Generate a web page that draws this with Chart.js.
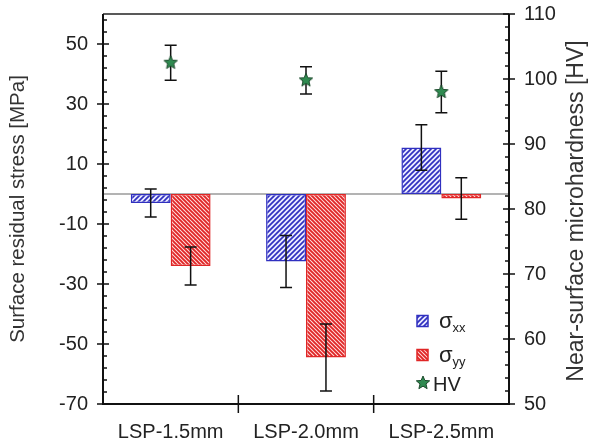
<!DOCTYPE html>
<html>
<head>
<meta charset="utf-8">
<script src="https://cdn.jsdelivr.net/npm/chart.js@4.4.1/dist/chart.umd.min.js"></script>
<style>
  html, body { margin: 0; padding: 0; background: #fff; }
  #wrap { width: 592px; height: 447px; }
</style>
</head>
<body>
<div id="wrap"><canvas id="chart" width="592" height="447"></canvas></div>
<script>
// categories and measured values
const categories = ['LSP-1.5mm', 'LSP-2.0mm', 'LSP-2.5mm'];
const sigmaXX = [-3, -22.5, 15.5];
const sigmaXXErr = [4.7, 8.7, 7.6];
const sigmaYY = [-24, -54.5, -1.5];
const sigmaYYErr = [6.3, 11.2, 6.9];
const hardness = [102.5, 99.8, 98];
const hardnessErr = [2.7, 2.1, 3.2];

// axis ticks
const stressTicks = [-70, -50, -30, -10, 10, 30, 50];
const stressMinorStep = 4;
const hvTicks = [50, 60, 70, 80, 90, 100, 110];
const hvMinorStep = 2;

const FONT = 'Liberation Sans, Arial, Helvetica, sans-serif';
const BLUE = '#3030c0';
const RED = '#e02626';
const GREEN = '#2f8a50';

function hatch(line, bg, forward, size, width) {
    const c = document.createElement('canvas');
    c.width = c.height = size;
    const g = c.getContext('2d');
    g.fillStyle = bg;
    g.fillRect(0, 0, size, size);
    g.strokeStyle = line;
    g.lineWidth = width;
    g.beginPath();
    if (forward) {
        g.moveTo(0, size); g.lineTo(size, 0);
        g.moveTo(-size, size); g.lineTo(size, -size);
        g.moveTo(0, 2 * size); g.lineTo(2 * size, 0);
    } else {
        g.moveTo(0, 0); g.lineTo(size, size);
        g.moveTo(-size, 0); g.lineTo(size, 2 * size);
        g.moveTo(0, -size); g.lineTo(2 * size, size);
    }
    g.stroke();
    return g.createPattern(c, 'repeat');
}

function starImage(r) {
    const size = Math.ceil(r * 2 + 4);
    const c = document.createElement('canvas');
    c.width = c.height = size;
    const g = c.getContext('2d');
    drawStar(g, size / 2, size / 2, r);
    return c;
}

function drawStar(g, cx, cy, r) {
    g.beginPath();
    for (let i = 0; i < 10; i++) {
        const rad = i % 2 === 0 ? r : r * 0.45;
        const a = -Math.PI / 2 + i * Math.PI / 5;
        const px = cx + rad * Math.cos(a), py = cy + rad * Math.sin(a);
        if (i === 0) g.moveTo(px, py); else g.lineTo(px, py);
    }
    g.closePath();
    g.fillStyle = GREEN;
    g.fill();
    g.strokeStyle = '#1c4a2c';
    g.lineWidth = 1;
    g.stroke();
}

const blueHatch = hatch(BLUE, '#ececff', true, 5, 1.7);
const redHatch = hatch(RED, '#ffe0e0', false, 4, 1.9);
const star = starImage(7);

function errorBar(ctx, x, y0, y1, cap) {
    ctx.beginPath();
    ctx.moveTo(x, y0); ctx.lineTo(x, y1);
    ctx.moveTo(x - cap, y0); ctx.lineTo(x + cap, y0);
    ctx.moveTo(x - cap, y1); ctx.lineTo(x + cap, y1);
    ctx.stroke();
}

const errs = { 0: sigmaXXErr, 1: sigmaYYErr, 2: hardnessErr };
const vals = { 0: sigmaXX, 1: sigmaYY, 2: hardness };

function drawErrors(chart, index) {
    const ctx = chart.ctx;
    const meta = chart.getDatasetMeta(index);
    const scale = chart.scales[meta.yAxisID];
    ctx.save();
    ctx.strokeStyle = '#111';
    ctx.lineWidth = 1.5;
    meta.data.forEach((el, i) => {
        const v = vals[index][i], e = errs[index][i];
        errorBar(ctx, el.x, scale.getPixelForValue(v + e), scale.getPixelForValue(v - e), 6);
    });
    ctx.restore();
}

function vText(ctx, text, x, y, size) {
    ctx.save();
    ctx.font = size + 'px ' + FONT;
    ctx.translate(x, y);
    ctx.rotate(-Math.PI / 2);
    ctx.fillText(text, 0, 0);
    ctx.restore();
}

const decorations = {
    id: 'decorations',
    beforeDatasetsDraw(chart) {
        const { ctx, chartArea: a } = chart;
        const y0 = chart.scales.y.getPixelForValue(0);
        ctx.save();
        ctx.strokeStyle = '#9a9a9a';
        ctx.lineWidth = 1.5;
        ctx.beginPath();
        ctx.moveTo(a.left, y0); ctx.lineTo(a.right, y0);
        ctx.stroke();
        ctx.restore();
    },
    beforeDatasetDraw(chart, args) {
        if (args.index === 2) drawErrors(chart, 2);
    },
    afterDatasetDraw(chart, args) {
        if (args.index < 2) drawErrors(chart, args.index);
    },
    afterDraw(chart) {
        const { ctx, chartArea: a } = chart;
        const ys = chart.scales.y, hs = chart.scales.y2, xs = chart.scales.x;
        ctx.save();

        // frame: thin top line, heavier axes
        ctx.strokeStyle = '#222';
        ctx.lineWidth = 1.5;
        ctx.beginPath();
        ctx.moveTo(a.left, a.top); ctx.lineTo(a.right, a.top);
        ctx.stroke();
        ctx.strokeStyle = '#111';
        ctx.lineWidth = 2;
        ctx.beginPath();
        ctx.moveTo(a.left, a.top); ctx.lineTo(a.left, a.bottom);
        ctx.lineTo(a.right, a.bottom); ctx.lineTo(a.right, a.top);
        ctx.stroke();

        // left ticks
        ctx.lineWidth = 1.5;
        ctx.beginPath();
        for (let v = ys.min; v < ys.max; v += stressMinorStep) {
            const py = ys.getPixelForValue(v);
            const major = stressTicks.includes(v);
            ctx.moveTo(a.left - (major ? 6 : 0), py);
            ctx.lineTo(a.left + (major ? 6 : 4), py);
        }
        // right ticks
        for (let v = hs.min; v <= hs.max; v += hvMinorStep) {
            const py = hs.getPixelForValue(v);
            const major = hvTicks.includes(v);
            ctx.moveTo(a.right + (major ? 6 : 0), py);
            ctx.lineTo(a.right - (major ? 6 : 4), py);
        }
        // category separators
        for (let i = 0; i < categories.length - 1; i++) {
            const px = (xs.getPixelForValue(i) + xs.getPixelForValue(i + 1)) / 2;
            ctx.moveTo(px, a.bottom - 9); ctx.lineTo(px, a.bottom + 9);
        }
        ctx.stroke();

        // tick labels
        ctx.fillStyle = '#222';
        ctx.font = '20px ' + FONT;
        ctx.textBaseline = 'middle';
        ctx.textAlign = 'right';
        stressTicks.forEach(v => ctx.fillText(String(v), a.left - 15, ys.getPixelForValue(v)));
        ctx.textAlign = 'left';
        hvTicks.forEach(v => ctx.fillText(String(v), a.right + 15, hs.getPixelForValue(v)));
        ctx.textAlign = 'center';
        categories.forEach((c, i) => ctx.fillText(c, xs.getPixelForValue(i), a.bottom + 28));

        // axis titles
        ctx.fillStyle = '#333';
        const midY = (a.top + a.bottom) / 2;
        vText(ctx, 'Surface residual stress [MPa]', 18, midY, 20.5);
        vText(ctx, 'Near-surface microhardness [HV]', 577, midY + 2, 23);

        // legend
        const lx = 417, box = 11;
        const rows = [
            { y: 321, fill: blueHatch, stroke: BLUE, sub: 'xx' },
            { y: 355, fill: redHatch, stroke: RED, sub: 'yy' }
        ];
        ctx.textAlign = 'left';
        ctx.textBaseline = 'alphabetic';
        rows.forEach(r => {
            ctx.fillStyle = r.fill;
            ctx.fillRect(lx, r.y - box / 2, box, box);
            ctx.strokeStyle = r.stroke;
            ctx.lineWidth = 1.5;
            ctx.strokeRect(lx, r.y - box / 2, box, box);
            ctx.fillStyle = '#222';
            ctx.font = '22px ' + FONT;
            ctx.fillText('σ', 439, r.y + 7);
            const w = ctx.measureText('σ').width;
            ctx.font = '13px ' + FONT;
            ctx.fillText(r.sub, 439 + w, r.y + 11);
        });
        drawStar(ctx, lx + 6, 383, 7);
        ctx.fillStyle = '#222';
        ctx.font = '20px ' + FONT;
        ctx.fillText('HV', 433, 391);

        ctx.restore();
    }
};

// scales carry the geometry; their labels are painted by the plugin above
const hiddenScale = {
    grid: { display: false },
    border: { display: false },
    ticks: { display: false }
};

new Chart(document.getElementById('chart'), {
    type: 'bar',
    data: {
        labels: categories,
        datasets: [
            {
                label: 'σxx', data: sigmaXX, yAxisID: 'y', order: 2,
                backgroundColor: blueHatch, borderColor: BLUE, borderWidth: 1.5,
                borderSkipped: false, barPercentage: 1, categoryPercentage: 0.59
            },
            {
                label: 'σyy', data: sigmaYY, yAxisID: 'y', order: 2,
                backgroundColor: redHatch, borderColor: RED, borderWidth: 1.5,
                borderSkipped: false, barPercentage: 1, categoryPercentage: 0.59
            },
            {
                type: 'line', label: 'HV', data: hardness, yAxisID: 'y2', order: 1,
                showLine: false, pointStyle: star, pointRadius: 7
            }
        ]
    },
    options: {
        responsive: false,
        animation: false,
        devicePixelRatio: 1,
        layout: { padding: { top: 14, left: 0, right: 0, bottom: 0 } },
        plugins: { legend: { display: false }, tooltip: { enabled: false } },
        scales: {
            x: { ...hiddenScale, afterFit: s => { s.height = 43; } },
            y: { ...hiddenScale, position: 'left', min: -70, max: 60, afterFit: s => { s.width = 103; } },
            y2: { ...hiddenScale, position: 'right', min: 50, max: 110, afterFit: s => { s.width = 83; } }
        }
    },
    plugins: [decorations]
});
</script>
</body>
</html>
